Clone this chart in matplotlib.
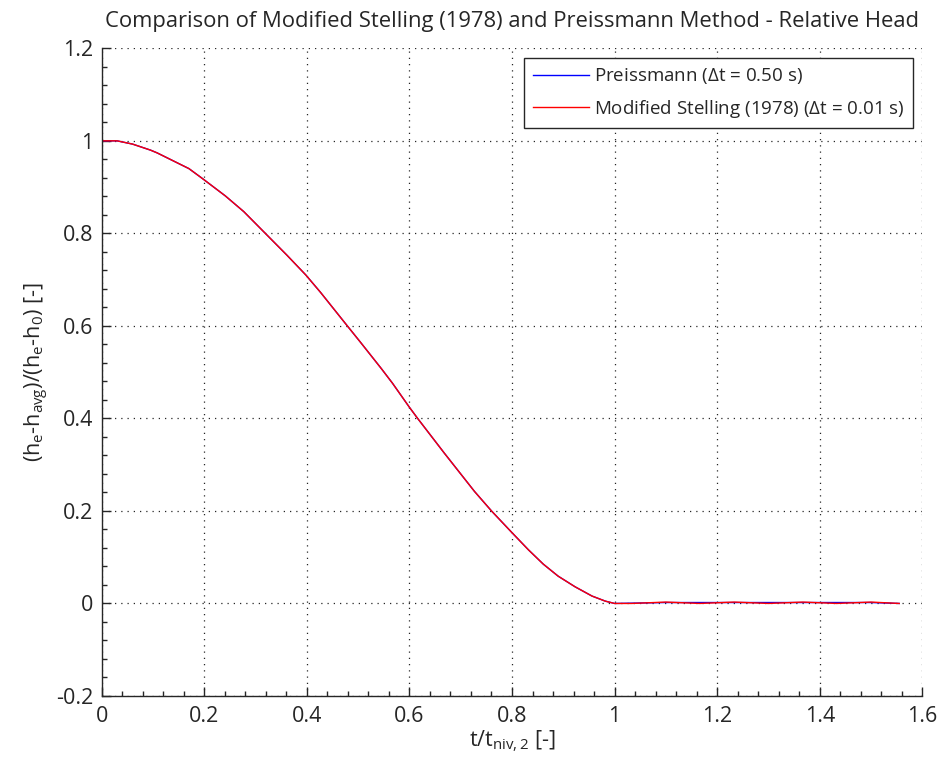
import matplotlib
matplotlib.use("Agg")
import matplotlib.pyplot as plt
from matplotlib.ticker import AutoMinorLocator, MultipleLocator, FuncFormatter

plt.rcParams['font.family'] = ['Open Sans', 'DejaVu Sans']
plt.rcParams['mathtext.default'] = 'regular'

# Relative head vs. normalised time, Modified Stelling (1978), dt = 0.01 s
stelling_t = [0.0, 0.03, 0.06, 0.095, 0.108, 0.17, 0.197, 0.241, 0.277, 0.319,
              0.361, 0.398, 0.427, 0.476, 0.505, 0.545, 0.567, 0.600, 0.616,
              0.668, 0.727, 0.760, 0.800, 0.832, 0.861, 0.890, 0.923, 0.956,
              0.982, 1.0, 1.033, 1.100, 1.166, 1.233, 1.300, 1.367, 1.433,
              1.500, 1.555]
stelling_h = [1.0, 1.0, 0.993, 0.980, 0.974, 0.940, 0.918, 0.881, 0.847, 0.800,
              0.753, 0.710, 0.672, 0.604, 0.564, 0.508, 0.476, 0.424, 0.400,
              0.325, 0.242, 0.200, 0.153, 0.116, 0.085, 0.059, 0.036, 0.016,
              0.005, 0.0, 0.0, 0.003, 0.0, 0.003, 0.0, 0.003, 0.0, 0.003, 0.0]

# Preissmann scheme, dt = 0.50 s (coincides with the curve above)
preissmann_t = [0.0, 0.03, 0.06, 0.095, 0.108, 0.17, 0.197, 0.241, 0.277, 0.319,
                0.361, 0.398, 0.427, 0.476, 0.505, 0.545, 0.567, 0.600, 0.616,
                0.668, 0.727, 0.760, 0.800, 0.832, 0.861, 0.890, 0.923, 0.956,
                0.982, 1.0, 1.100, 1.233, 1.367, 1.500, 1.555]
preissmann_h = [1.0, 1.0, 0.993, 0.980, 0.974, 0.940, 0.918, 0.881, 0.847, 0.800,
                0.753, 0.710, 0.672, 0.604, 0.564, 0.508, 0.476, 0.424, 0.400,
                0.325, 0.242, 0.200, 0.153, 0.116, 0.085, 0.059, 0.036, 0.016,
                0.005, 0.0, 0.002, 0.002, 0.002, 0.002, 0.0]

ink = '#262626'

fig = plt.figure(figsize=(9.41, 7.67), dpi=100)
ax = fig.add_axes([0.1081, 0.0926, 0.8720, 0.8444])

ax.plot(preissmann_t, preissmann_h, color='#0000ff', lw=1.0,
        label='Preissmann ($\\Delta$t = 0.50 s)')
ax.plot(stelling_t, stelling_h, color='#ff0000', lw=1.0,
        label='Modified Stelling (1978) ($\\Delta$t = 0.01 s)')

ax.set_xlim(0, 1.6)
ax.set_ylim(-0.2, 1.2)
ax.xaxis.set_major_locator(MultipleLocator(0.2))
ax.yaxis.set_major_locator(MultipleLocator(0.2))
ax.xaxis.set_minor_locator(AutoMinorLocator(5))
ax.yaxis.set_minor_locator(AutoMinorLocator(5))
fmt = FuncFormatter(lambda v, p: f'{round(v, 2):g}')
ax.xaxis.set_major_formatter(fmt)
ax.yaxis.set_major_formatter(fmt)

for s in ('top', 'right'):
    ax.spines[s].set_visible(False)
for s in ('left', 'bottom'):
    ax.spines[s].set_color(ink)
    ax.spines[s].set_linewidth(1.0)

ax.tick_params(which='major', direction='in', length=6.5, width=1.0,
               color=ink, labelsize=15.5, labelcolor=ink)
ax.tick_params(axis='x', which='major', pad=7)
ax.tick_params(axis='y', which='major', pad=6)
ax.tick_params(which='minor', direction='in', length=3.6, width=1.0, color=ink)
ax.tick_params(top=False, right=False, which='both')

ax.grid(True, which='major', color=ink, linestyle=(0, (1, 4)), lw=0.9)
ax.set_axisbelow(True)

ax.set_title('Comparison of Modified Stelling (1978) and Preissmann Method - Relative Head',
             fontsize=15.8, color=ink, pad=15)
ax.set_xlabel('t/t$_{niv,2}$ [-]', fontsize=15.5, color=ink, labelpad=1)
ax.set_ylabel('(h$_e$-h$_{avg}$)/(h$_e$-h$_0$) [-]', fontsize=15.5,
              color=ink, labelpad=4)

leg = ax.legend(loc='upper right', fontsize=13.5, frameon=True, fancybox=False,
                framealpha=1, edgecolor=ink, borderaxespad=0.5,
                handlelength=3.0, labelspacing=0.62, borderpad=0.45,
                handletextpad=0.27)
leg.get_frame().set_linewidth(1.0)
for t in leg.get_texts():
    t.set_color(ink)

fig.savefig('out.png', dpi=100)
